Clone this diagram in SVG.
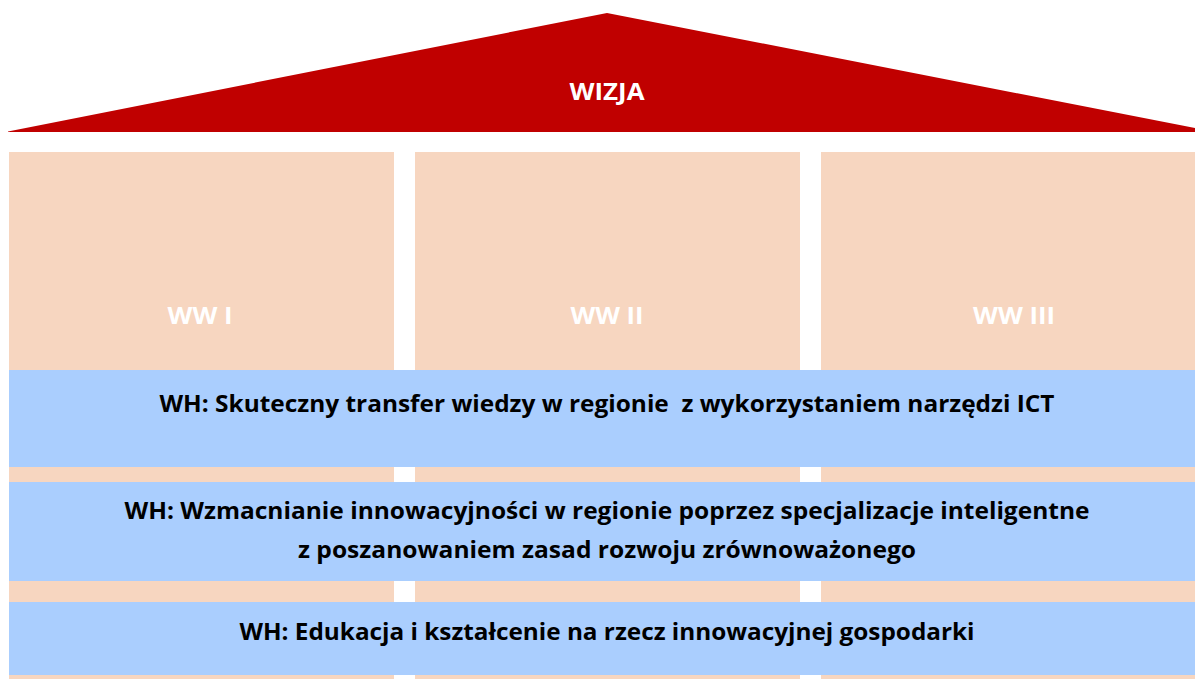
<svg xmlns="http://www.w3.org/2000/svg" width="1195" height="679" viewBox="0 0 1195 679">
  <style>
    .col { fill: #F7D6C0; }
    .band { fill: #AACEFE; }
    .t { font-family: "Open Sans", "Noto Sans", "Liberation Sans", sans-serif; font-weight: bold; text-anchor: middle; }
    .dark { fill: #000000; font-size: 22.5px; }
    .light { fill: #FFFFFF; font-size: 24px; }
  </style>
  <rect x="0" y="0" width="1195" height="679" fill="#FFFFFF"/>
  <g id="roof">
    <polygon points="8,131.5 607,13 1195,128 1195,132 8,132" fill="#C00000"/>
    <text class="t light" x="607" y="100" textLength="75" lengthAdjust="spacingAndGlyphs">WIZJA</text>
  </g>
  <g id="col1">
    <rect class="col" x="9" y="152" width="385" height="527"/>
    <text class="t light" x="200" y="324" textLength="65" lengthAdjust="spacingAndGlyphs">WW I</text>
  </g>
  <g id="col2">
    <rect class="col" x="415" y="152" width="385" height="527"/>
    <text class="t light" x="607" y="324" textLength="73" lengthAdjust="spacingAndGlyphs">WW II</text>
  </g>
  <g id="col3">
    <rect class="col" x="821" y="152" width="374" height="527"/>
    <text class="t light" x="1014" y="324" textLength="82" lengthAdjust="spacingAndGlyphs">WW III</text>
  </g>
  <g id="band1">
    <rect class="band" x="9" y="370" width="1186" height="97"/>
    <text class="t dark" x="607" y="412" textLength="895" lengthAdjust="spacingAndGlyphs" xml:space="preserve">WH: Skuteczny transfer wiedzy w regionie  z wykorzystaniem narzędzi ICT</text>
  </g>
  <g id="band2">
    <rect class="band" x="9" y="482" width="1186" height="99"/>
    <text class="t dark" x="607" y="519" textLength="965" lengthAdjust="spacingAndGlyphs">WH: Wzmacnianie innowacyjności w regionie poprzez specjalizacje inteligentne</text>
    <text class="t dark" x="607" y="558" textLength="618" lengthAdjust="spacingAndGlyphs">z poszanowaniem zasad rozwoju zrównoważonego</text>
  </g>
  <g id="band3">
    <rect class="band" x="9" y="602" width="1186" height="73"/>
    <text class="t dark" x="607" y="640" textLength="735" lengthAdjust="spacingAndGlyphs">WH: Edukacja i kształcenie na rzecz innowacyjnej gospodarki</text>
  </g>
  <g id="connectors"/>
</svg>
